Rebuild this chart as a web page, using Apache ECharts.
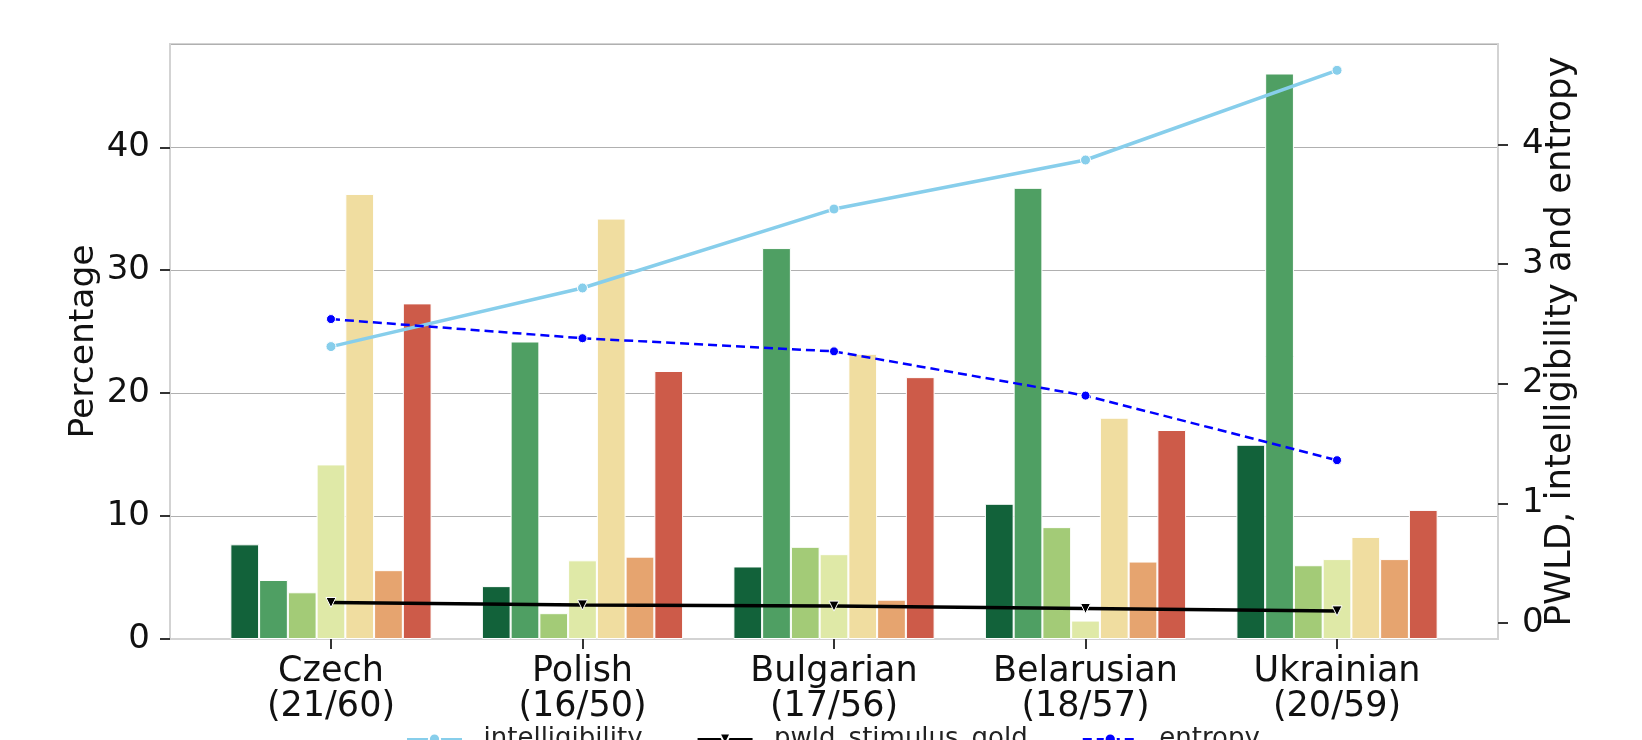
<!DOCTYPE html>
<html>
<head>
<meta charset="utf-8">
<script src="https://cdn.jsdelivr.net/npm/echarts@6/dist/echarts.min.js"></script>
<style>
  html, body { margin: 0; padding: 0; background: #fff; }
  #chart { width: 1642px; height: 740px; }
</style>
</head>
<body>
<div id="chart"></div>
<script>
// languages on the x axis
const languages = ['Czech\n(21/60)', 'Polish\n(16/50)', 'Bulgarian\n(17/56)', 'Belarusian\n(18/57)', 'Ukrainian\n(20/59)'];

// percentage bars, one array per hue level (dark green -> red)
const level1 = [7.7, 4.3, 5.9, 11.0, 15.8];
const level2 = [4.8, 24.2, 31.8, 36.7, 46.0];
const level3 = [3.8, 2.1, 7.5, 9.1, 6.0];
const level4 = [14.2, 6.4, 6.9, 1.5, 6.5];
const level5 = [36.2, 34.2, 23.2, 18.0, 8.3];
const level6 = [5.6, 6.7, 3.2, 6.3, 6.5];
const level7 = [27.3, 21.8, 21.3, 17.0, 10.5];

// right axis lines
const intelligibility = [2.31, 2.80, 3.46, 3.87, 4.62];
const pwldStimulusGold = [0.17, 0.15, 0.14, 0.12, 0.10];
const entropy = [2.54, 2.38, 2.27, 1.90, 1.36];

const rightTicks = [0, 1, 2, 3, 4];

const barLevels = [level1, level2, level3, level4, level5, level6, level7];
const barColors = ['#12623a', '#4f9f63', '#a3cb77', '#dfe9a7', '#f0dda0', '#e6a46f', '#cd5b49'];

const font = 'DejaVu Sans';
const idx = languages.map((_, i) => i);
const pairs = arr => arr.map((v, i) => [i, v]);
const frame = { show: true, onZero: false, lineStyle: { color: '#d3d3d3', width: 2 } };
const tickStyle = { color: '#333', width: 2 };

const barSeries = barLevels.map((arr, k) => ({
    name: 'level ' + (k + 1),
    type: 'bar',
    data: pairs(arr),
    barGap: '0%',
    barCategoryGap: '20%',
    itemStyle: { color: barColors[k], borderColor: '#fff', borderWidth: 1 },
    z: 2,
}));

const chart = echarts.init(document.getElementById('chart'), null, { renderer: 'canvas' });
chart.setOption({
    animation: false,
    textStyle: { fontFamily: font },
    grid: {
        left: 170, top: 44, width: 1328, height: 595,
        show: true, borderColor: '#d3d3d3', borderWidth: 2, backgroundColor: 'transparent',
    },
    legend: {
        data: ['intelligibility', 'pwld_stimulus_gold', 'entropy'],
        left: 401, top: 721,
        itemWidth: 55, itemHeight: 14, itemGap: 54,
        formatter: name => '  ' + name,
        textStyle: { fontSize: 26, color: '#222', fontFamily: font },
    },
    xAxis: {
        type: 'value',
        min: -0.64, max: 4.64,
        splitLine: { show: false },
        axisLine: frame,
        axisTick: { show: true, customValues: idx, length: 10, lineStyle: tickStyle },
        axisLabel: {
            customValues: idx,
            formatter: v => languages[Math.round(v)],
            fontSize: 35, lineHeight: 35, color: '#111', margin: 15,
        },
    },
    yAxis: [
        {
            type: 'value',
            min: 0, max: 48.4, interval: 10,
            name: 'Percentage', nameLocation: 'middle', nameGap: 68, nameMoveOverlap: false,
            nameTextStyle: { fontSize: 34.5, color: '#111' },
            axisLine: frame,
            axisTick: { show: true, length: 10, lineStyle: tickStyle },
            axisLabel: { showMaxLabel: false, fontSize: 34, color: '#111', margin: 20 },
            splitLine: { show: true, lineStyle: { color: '#b0b0b0', width: 1 } },
        },
        {
            type: 'value',
            position: 'right',
            min: -0.135, max: 4.84,
            name: 'PWLD, intelligibility and entropy', nameLocation: 'middle', nameGap: 45, nameRotate: 90, nameMoveOverlap: false,
            nameTextStyle: { fontSize: 35.5, color: '#111' },
            axisLine: frame,
            axisTick: { show: true, customValues: rightTicks, length: 10, lineStyle: tickStyle },
            axisLabel: { customValues: rightTicks, fontSize: 34, color: '#111', margin: 24 },
            splitLine: { show: false },
        },
    ],
    series: barSeries.concat([
        {
            name: 'intelligibility', type: 'line', yAxisIndex: 1,
            data: pairs(intelligibility),
            symbol: 'circle', symbolSize: 10,
            lineStyle: { color: '#87ceeb', width: 3.5 },
            itemStyle: { color: '#87ceeb', borderColor: '#fff', borderWidth: 1 },
            z: 4,
        },
        {
            name: 'pwld_stimulus_gold', type: 'line', yAxisIndex: 1,
            data: pairs(pwldStimulusGold),
            symbol: 'triangle', symbolRotate: 180, symbolSize: 10,
            lineStyle: { color: '#000', width: 3.5 },
            itemStyle: { color: '#000', borderColor: '#fff', borderWidth: 1 },
            z: 4,
        },
        {
            name: 'entropy', type: 'line', yAxisIndex: 1,
            data: pairs(entropy),
            symbol: 'circle', symbolSize: 9,
            lineStyle: { color: '#0000ff', width: 2.5, type: [9, 5] },
            itemStyle: { color: '#0000ff', borderColor: '#fff', borderWidth: 1 },
            z: 4,
        },
    ]),
});
</script>
</body>
</html>
